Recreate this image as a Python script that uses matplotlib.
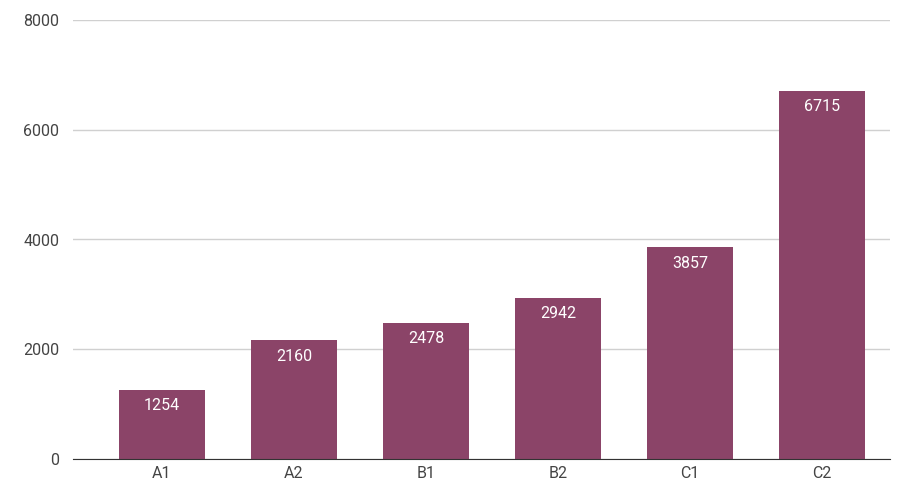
import matplotlib
matplotlib.use("Agg")
import matplotlib.pyplot as plt

categories = ["A1", "A2", "B1", "B2", "C1", "C2"]
values = [1254, 2160, 2478, 2942, 3857, 6715]
yticks = [0, 2000, 4000, 6000, 8000]

plt.rcParams['font.family'] = ['Roboto', 'DejaVu Sans']

fig = plt.figure(figsize=(9.02, 4.86), dpi=100)
ax = fig.add_axes([73/902, 27/486, (890-73)/902, (459-20)/486])

x = list(range(len(categories)))
bars = ax.bar(x, values, width=0.645, color='#8B4468', zorder=3)
for xi, v in zip(x, values):
    ax.text(xi, v - 150, str(v), ha='center', va='top', color='white', fontsize=11.5, zorder=4)

ax.set_xlim(-0.674, 5.515)
ax.set_ylim(0, 8000)
ax.set_yticks(yticks)
ax.set_yticklabels([str(t) for t in yticks])
ax.set_xticks(x)
ax.set_xticklabels(categories)
ax.grid(axis='y', color='#d0d0d0', linewidth=1, zorder=0)
for s in ['top', 'right', 'left']:
    ax.spines[s].set_visible(False)
ax.spines['bottom'].set_color('#333333')
ax.spines['bottom'].set_zorder(5)
ax.tick_params(axis='both', length=0, colors='#444444', labelsize=11.5)
ax.tick_params(axis='y', pad=10)
ax.tick_params(axis='x', pad=5)

fig.savefig("out.png", dpi=100, facecolor='white')
